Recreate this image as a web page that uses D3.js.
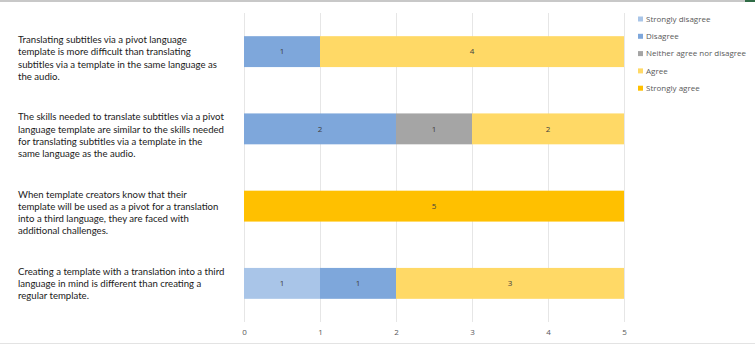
<!DOCTYPE html>
<html>
<head>
<meta charset="utf-8">
<script src="https://cdn.jsdelivr.net/npm/d3@7"></script>
<style>
  body { margin: 0; background: #fff; }
  svg { display: block; font-family: "Open Sans", "Liberation Sans", sans-serif; }
</style>
</head>
<body>
<div id="chart"></div>
<script>
/**
 * Data
 */
const statements = [
  ["Translating subtitles via a pivot language", "template is more difficult than translating", "subtitles via a template in the same language as", "the audio."],
  ["The skills needed to translate subtitles via a pivot", "language template are similar to the skills needed", "for translating subtitles via a template in the", "same language as the audio."],
  ["When template creators know that their", "template will be used as a pivot for a translation", "into a third language, they are faced with", "additional challenges."],
  ["Creating a template with a translation into a third", "language in mind is different than creating a", "regular template."]
];
const responses = ["Strongly disagree", "Disagree", "Neither agree nor disagree", "Agree", "Strongly agree"];
const stronglyDisagree = [0, 0, 0, 1];
const disagree = [1, 2, 0, 1];
const neither = [0, 1, 0, 0];
const agree = [4, 2, 0, 3];
const stronglyAgree = [0, 0, 5, 0];
const xTicks = [0, 1, 2, 3, 4, 5];

const colors = ["#a9c5e8", "#7ea7db", "#a5a5a5", "#ffd966", "#ffc000"];

/**
 * Basic Settings
 */
const canvasWidth = 755;
const canvasHeight = 346;
const plotLeft = 244, plotRight = 624, plotTop = 13, plotBottom = 322;

const svg = d3.select("#chart")
  .append("svg")
  .attr("width", canvasWidth)
  .attr("height", canvasHeight);

// frame lines of the screenshot
svg.append("rect").attr("x", 0).attr("y", 0).attr("width", canvasWidth).attr("height", 2).attr("fill", "#c8c8c8");
svg.append("rect").attr("x", 745).attr("y", 0).attr("width", 10).attr("height", 2).attr("fill", "#2f6b45");
svg.append("line").attr("x1", 0).attr("x2", canvasWidth).attr("y1", 343.5).attr("y2", 343.5)
  .attr("stroke", "#e3e3e3");

const rows = statements.map(function(s, i) {
  return {
    index: i,
    values: [stronglyDisagree[i], disagree[i], neither[i], agree[i], stronglyAgree[i]]
  };
});

/**
 * Scale
 */
const xScale = d3.scaleLinear()
  .domain([0, 5])
  .range([plotLeft, plotRight]);

const yScale = d3.scaleBand()
  .domain(d3.range(statements.length))
  .range([plotTop, plotBottom])
  .paddingInner(0.6)
  .paddingOuter(0.3);

/**
 * Grid
 */
svg.append("g")
  .selectAll("line")
  .data(xTicks)
  .enter()
  .append("line")
  .attr("x1", d => xScale(d) + 0.5)
  .attr("x2", d => xScale(d) + 0.5)
  .attr("y1", plotTop)
  .attr("y2", plotBottom)
  .attr("stroke", "#e6e6e6")
  .attr("stroke-width", 1);

/**
 * Stacked bars
 */
const stacked = d3.stack()
  .keys(d3.range(responses.length))
  .value((d, k) => d.values[k])(rows);

const layer = svg.append("g")
  .selectAll("g")
  .data(stacked)
  .enter()
  .append("g")
  .attr("fill", (d, k) => colors[k]);

layer.selectAll("rect")
  .data(d => d.filter(p => p[1] - p[0] > 0))
  .enter()
  .append("rect")
  .attr("x", d => xScale(d[0]))
  .attr("y", d => yScale(d.data.index))
  .attr("width", d => xScale(d[1]) - xScale(d[0]))
  .attr("height", yScale.bandwidth());

layer.selectAll("text")
  .data(d => d.filter(p => p[1] - p[0] > 0))
  .enter()
  .append("text")
  .attr("x", d => (xScale(d[0]) + xScale(d[1])) / 2)
  .attr("y", d => yScale(d.data.index) + yScale.bandwidth() / 2)
  .attr("dy", "0.35em")
  .attr("text-anchor", "middle")
  .attr("font-size", 8)
  .attr("fill", "#404040")
  .text(d => d[1] - d[0]);

/**
 * Category labels
 */
const labels = svg.append("g")
  .selectAll("text")
  .data(statements)
  .enter()
  .append("text")
  .attr("font-family", "Lato, \"Open Sans\", sans-serif")
  .attr("font-size", 9.6)
  .attr("fill", "#1a1a1a")
  .attr("x", 18)
  .attr("y", (d, i) => yScale(i) + yScale.bandwidth() / 2 - 12 + 3.5);

labels.selectAll("tspan")
  .data(d => d)
  .enter()
  .append("tspan")
  .attr("x", 18)
  .attr("dy", (d, j) => j === 0 ? 0 : 12.2)
  .text(d => d);

/**
 * Axis
 */
const xAxis = d3.axisBottom(xScale)
  .tickValues(xTicks)
  .tickFormat(d3.format("d"))
  .tickSize(0)
  .tickPadding(0);

svg.append("g")
  .attr("transform", "translate(0," + 329 + ")")
  .call(xAxis)
  .call(g => g.select(".domain").remove())
  .call(g => g.selectAll("text")
    .attr("font-size", 8)
    .attr("font-family", "\"Open Sans\", sans-serif")
    .attr("fill", "#595959"));

/**
 * Legend
 */
const legend = svg.append("g")
  .selectAll("g")
  .data(responses)
  .enter()
  .append("g")
  .attr("transform", (d, i) => "translate(638," + (19 + i * 17.3) + ")");

legend.append("rect")
  .attr("x", 0)
  .attr("y", -2.5)
  .attr("width", 5)
  .attr("height", 5)
  .attr("fill", (d, i) => colors[i]);

legend.append("text")
  .attr("x", 8)
  .attr("dy", "0.35em")
  .attr("font-size", 8)
  .attr("fill", "#595959")
  .text(d => d);
</script>
</body>
</html>
